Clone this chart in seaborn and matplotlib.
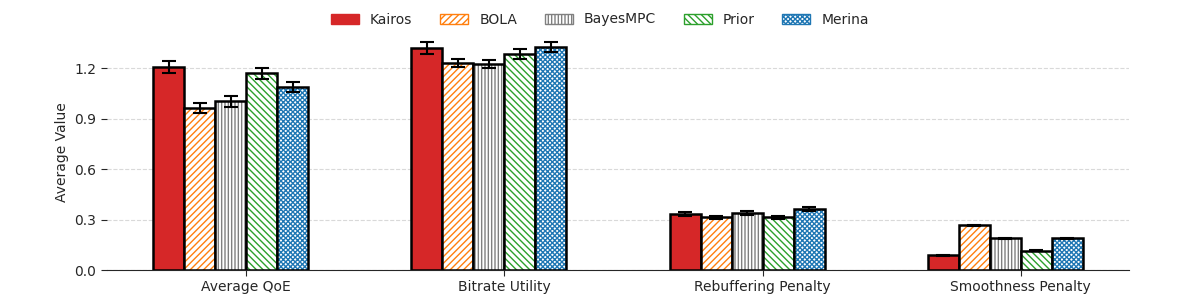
import pandas as pd
import seaborn as sns
import matplotlib.pyplot as plt
from matplotlib.colors import to_rgba
from matplotlib.patches import Patch

# Values
metrics = ['Average QoE', 'Bitrate Utility', 'Rebuffering Penalty', 'Smoothness Penalty']
methods = ['Kairos', 'BOLA', 'BayesMPC', 'Prior', 'Merina']

kairos = [1.205, 1.32, 0.335, 0.089]
bola = [0.963, 1.23, 0.313, 0.267]
bayesmpc = [1.004, 1.224, 0.338, 0.19]
prior = [1.17, 1.283, 0.313, 0.115]
merina = [1.087, 1.325, 0.362, 0.19]

kairos_err = [0.036, 0.035, 0.012, 0.003]
bola_err = [0.027, 0.025, 0.007, 0.003]
bayesmpc_err = [0.033, 0.025, 0.012, 0.003]
prior_err = [0.033, 0.03, 0.007, 0.003]
merina_err = [0.03, 0.03, 0.01, 0.003]

colors = ['#d62728', '#ff7f0e', '#808080', '#2ca02c', '#1f77b4']
hatches = ['', '/////', '|||||', '\\\\\\\\\\', 'xxxxxxx']

values = [kairos, bola, bayesmpc, prior, merina]
errors = [kairos_err, bola_err, bayesmpc_err, prior_err, merina_err]

rows = []
for m, vals, errs in zip(methods, values, errors):
    for metric, v, e in zip(metrics, vals, errs):
        rows.append({'Metric': metric, 'Method': m, 'Value': v, 'Err': e})
df = pd.DataFrame(rows)

sns.set_style('white')
plt.rcParams['font.family'] = ['DejaVu Sans']
plt.rcParams['hatch.linewidth'] = 1.0

fig, ax = plt.subplots(figsize=(12, 3), dpi=100)
sns.barplot(data=df, x='Metric', y='Value', hue='Method', order=metrics,
            hue_order=methods, palette=colors, saturation=1, width=0.6,
            errorbar=None, ax=ax, legend=False)

# seaborn orders the patches hue by hue
for i, m in enumerate(methods):
    sub = df[df['Method'] == m].set_index('Metric').loc[metrics]
    bars = ax.patches[i * len(metrics):(i + 1) * len(metrics)]
    for bar, (_, r) in zip(bars, sub.iterrows()):
        # in the original the group sits half a bar left of its tick
        bar.set_x(bar.get_x() - bar.get_width() / 2)
        if hatches[i]:
            bar.set_facecolor('white')
            bar.set_hatch(hatches[i])
        bar.set_edgecolor('black')
        bar.set_linewidth(1.8)
        bar._hatch_color = to_rgba(colors[i])
        cx = bar.get_x() + bar.get_width() / 2
        ax.errorbar(cx, r['Value'], yerr=r['Err'], fmt='none', ecolor='black',
                    elinewidth=1.5, capsize=5, capthick=1.5, zorder=4)

ax.set_ylim(0, 1.4)
ax.set_xlim(-0.54, 3.42)
ax.set_yticks([0.0, 0.3, 0.6, 0.9, 1.2])
ax.set_xlabel('')
ax.set_ylabel('Average Value', fontsize=10)
ax.tick_params(axis='both', labelsize=10, length=4, left=True, bottom=True)
ax.yaxis.grid(True, linestyle='--', color='#d9d9d9', linewidth=0.8)
ax.set_axisbelow(True)
sns.despine(ax=ax, left=True)

handles = [Patch(facecolor=c if not h else 'white', edgecolor=c, hatch=h, label=m)
           for m, c, h in zip(methods, colors, hatches)]
fig.legend(handles=handles, loc='upper center', ncol=5, frameon=False,
           fontsize=10, bbox_to_anchor=(0.5, 1.0), columnspacing=2.0)

fig.subplots_adjust(left=0.089, right=0.941, bottom=0.1, top=0.885)
fig.savefig('out.png', dpi=100)
